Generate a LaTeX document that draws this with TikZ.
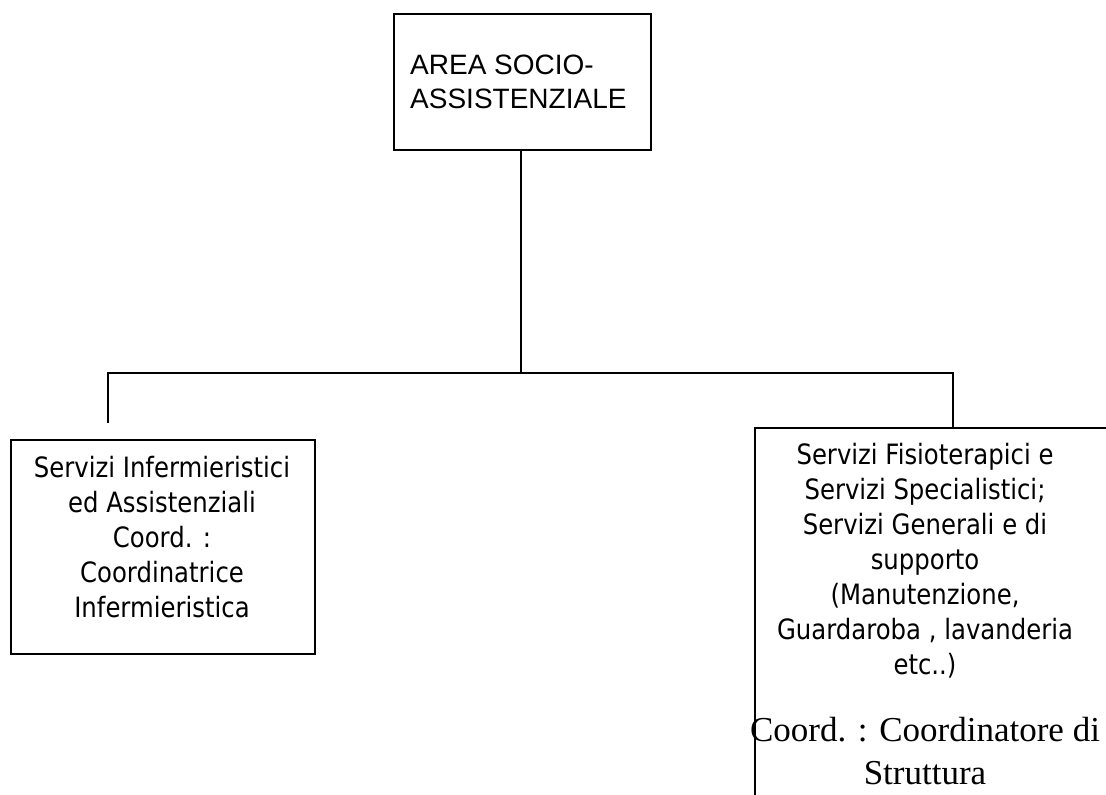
\documentclass[tikz,border=0pt]{standalone}
\usepackage{fontspec}
\setmainfont{Liberation Serif}
\newfontfamily\arialfont{Liberation Sans}
\newfontfamily\tahomafont[FakeStretch=0.87]{DejaVu Sans}
\usetikzlibrary{positioning, calc}

\begin{document}
\begin{tikzpicture}[
        x=1pt, y=-1pt,
        box/.style={rectangle, draw=black, line width=1.8pt, inner sep=0pt, anchor=north west},
        boxtext/.style={anchor=north, align=center, inner sep=0pt},
        link/.style={draw=black, line width=1.8pt}
    ]
        \useasboundingbox (0,0) rectangle (1106,795);
        \clip (0,0) rectangle (1106,795);

        % top box
        \node[box, minimum width=257pt, minimum height=136pt] (area) at (393,13) {};
        \node[align=left, anchor=north west, inner sep=0pt, font=\arialfont\fontsize{28}{34}\selectfont] (areatext) at (410,54.6) {AREA SOCIO-\\ASSISTENZIALE};

        % lower boxes
        \node[box, minimum width=304pt, minimum height=214pt] (infbox) at (10,439) {};
        \coordinate (inftop) at (162,439);
        \node[boxtext, below=16.7pt of inftop, font=\tahomafont\fontsize{28}{35}\selectfont] (inftext)
            {Servizi Infermieristici\\ed Assistenziali\\Coord. :\\Coordinatrice\\Infermieristica};

        \node[box, minimum width=360pt, minimum height=380pt] (fisbox) at (754,427) {};
        \coordinate (fistop) at (925,427);
        \node[boxtext, below=16.5pt of fistop, font=\tahomafont\fontsize{28}{35}\selectfont] (fistext)
            {Servizi Fisioterapici e\\Servizi Specialistici;\\Servizi Generali e di\\supporto\\(Manutenzione,\\Guardaroba , lavanderia\\etc..)};
        \node[boxtext, at={(925,717)}, font=\fontsize{35}{43}\selectfont] (coordtext)
            {Coord. : Coordinatore di\\Struttura};

        % connectors
        \coordinate (split) at (521,373);
        \coordinate (leftdrop) at (108,423);
        \draw[link] (area.south -| split) -- (split);
        \draw[link] (leftdrop) |- (split) -| (fisbox.north -| 953,0);
    \end{tikzpicture}
\end{document}
